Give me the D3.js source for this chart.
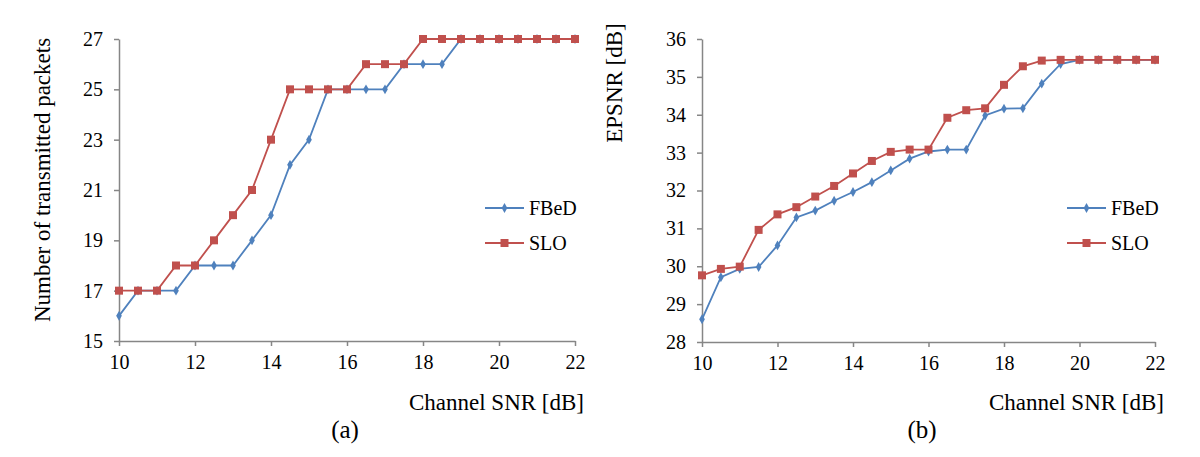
<!DOCTYPE html>
<meta charset="utf-8">
<style>
body { margin: 0; background: #fff; }
text { font-family: "Liberation Serif", "Times New Roman", serif; fill: #000; }
.axis path, .axis line { stroke: #868686; stroke-width: 1.5; }
</style>
<body>
<script src="https://cdn.jsdelivr.net/npm/d3@7"></script>
<script>

// channel SNR values (x axis), shared by both panels
var snr = [10, 10.5, 11, 11.5, 12, 12.5, 13, 13.5, 14, 14.5, 15, 15.5, 16,
           16.5, 17, 17.5, 18, 18.5, 19, 19.5, 20, 20.5, 21, 21.5, 22];

// (a) number of transmitted packets
var fbedPackets = [16, 17, 17, 17, 18, 18, 18, 19, 20, 22, 23, 25, 25,
                   25, 25, 26, 26, 26, 27, 27, 27, 27, 27, 27, 27];
var sloPackets  = [17, 17, 17, 18, 18, 19, 20, 21, 23, 25, 25, 25, 25,
                   26, 26, 26, 27, 27, 27, 27, 27, 27, 27, 27, 27];

// (b) EPSNR [dB]
var fbedEpsnr = [28.6, 29.71, 29.93, 29.98, 30.55, 31.29, 31.47, 31.73, 31.96, 32.22, 32.53, 32.84, 33.03,
                 33.08, 33.08, 33.98, 34.16, 34.17, 34.82, 35.34, 35.45, 35.45, 35.45, 35.45, 35.45];
var sloEpsnr  = [29.76, 29.93, 29.99, 30.96, 31.37, 31.56, 31.84, 32.12, 32.45, 32.78, 33.02, 33.08, 33.08,
                 33.92, 34.12, 34.17, 34.79, 35.28, 35.43, 35.45, 35.45, 35.45, 35.45, 35.45, 35.45];

// tick values
var xTicks = [10, 12, 14, 16, 18, 20, 22];
var packetTicks = [15, 17, 19, 21, 23, 25, 27];
var epsnrTicks = [28, 29, 30, 31, 32, 33, 34, 35, 36];

var seriesNames = ["FBeD", "SLO"];
var blue = "#4f81bd", red = "#c0504d";
var serif = "'Liberation Serif', 'Times New Roman', serif";

var svg = d3.select("body").append("svg")
    .attr("width", 1200)
    .attr("height", 457);

svg.append("rect").attr("width", 1200).attr("height", 457).attr("fill", "#fff");

// d3 puts sans-serif 10px on the axis group, so restyle the labels
function serifTicks(g) {
  g.selectAll(".tick text")
      .style("font-family", serif)
      .style("font-size", "20px")
      .style("fill", "#000");
}

function drawPanel(p) {
  var x = d3.scaleLinear().domain([10, 22]).range([p.left, p.right]);
  var y = d3.scaleLinear().domain(p.yDomain).range([p.bottom, p.top]);

  // axes
  svg.append("g")
      .attr("class", "axis")
      .attr("transform", "translate(0," + p.bottom + ")")
      .call(d3.axisBottom(x).tickValues(xTicks).tickSize(5).tickSizeOuter(0).tickPadding(9))
      .call(serifTicks);

  svg.append("g")
      .attr("class", "axis")
      .attr("transform", "translate(" + p.left + ",0)")
      .call(d3.axisLeft(y).tickValues(p.yTicks).tickSize(5).tickSizeOuter(0).tickPadding(11))
      .call(serifTicks);

  var line = d3.line()
      .x(function(d, i) { return x(snr[i]); })
      .y(function(d) { return y(d); });

  var series = [
    {name: seriesNames[0], values: p.fbed, color: blue, shape: d3.symbolDiamond, size: 28},
    {name: seriesNames[1], values: p.slo, color: red, shape: d3.symbolSquare, size: 64}
  ];

  series.forEach(function(s) {
    svg.append("path")
        .datum(s.values)
        .attr("fill", "none")
        .attr("stroke", s.color)
        .attr("stroke-width", 1.8)
        .attr("d", line);

    svg.selectAll(null)
        .data(s.values)
      .enter().append("path")
        .attr("transform", function(d, i) { return "translate(" + x(snr[i]) + "," + y(d) + ")"; })
        .attr("d", d3.symbol().type(s.shape).size(s.size))
        .attr("fill", s.color);
  });

  // legend
  series.forEach(function(s, i) {
    var ly = p.legendY + i * 35;
    var lg = svg.append("g").attr("transform", "translate(" + p.legendX + "," + ly + ")");
    lg.append("line")
        .attr("x1", 0).attr("x2", 39)
        .attr("stroke", s.color).attr("stroke-width", 1.8);
    lg.append("path")
        .attr("transform", "translate(19.5,0)")
        .attr("d", d3.symbol().type(s.shape).size(s.size))
        .attr("fill", s.color);
    lg.append("text")
        .attr("x", 44)
        .attr("dy", "0.35em")
        .style("font-size", "20px")
        .text(s.name);
  });

  // axis titles
  svg.append("text")
      .attr("x", p.right + 9)
      .attr("y", 410)
      .attr("text-anchor", "end")
      .style("font-size", "23px")
      .text("Channel SNR [dB]");

  svg.append("text")
      .attr("transform", "translate(" + p.yLabelX + "," + p.yLabelY + ") rotate(-90)")
      .attr("text-anchor", "middle")
      .attr("dy", "0.35em")
      .style("font-size", "23px")
      .text(p.yLabel);

  svg.append("text")
      .attr("x", p.capX)
      .attr("y", 438)
      .attr("text-anchor", "middle")
      .style("font-size", "25px")
      .text(p.caption);
}

drawPanel({
  left: 119, right: 575, top: 39, bottom: 341,
  yDomain: [15, 27], yTicks: packetTicks,
  fbed: fbedPackets, slo: sloPackets,
  legendX: 485, legendY: 208,
  yLabel: "Number of transmitted packets", yLabelX: 42, yLabelY: 180,
  caption: "(a)", capX: 345
});

drawPanel({
  left: 702, right: 1155, top: 39, bottom: 342,
  yDomain: [28, 36], yTicks: epsnrTicks,
  fbed: fbedEpsnr, slo: sloEpsnr,
  legendX: 1067, legendY: 208,
  yLabel: "EPSNR [dB]", yLabelX: 614, yLabelY: 83,
  caption: "(b)", capX: 922
});

</script>
</body>
